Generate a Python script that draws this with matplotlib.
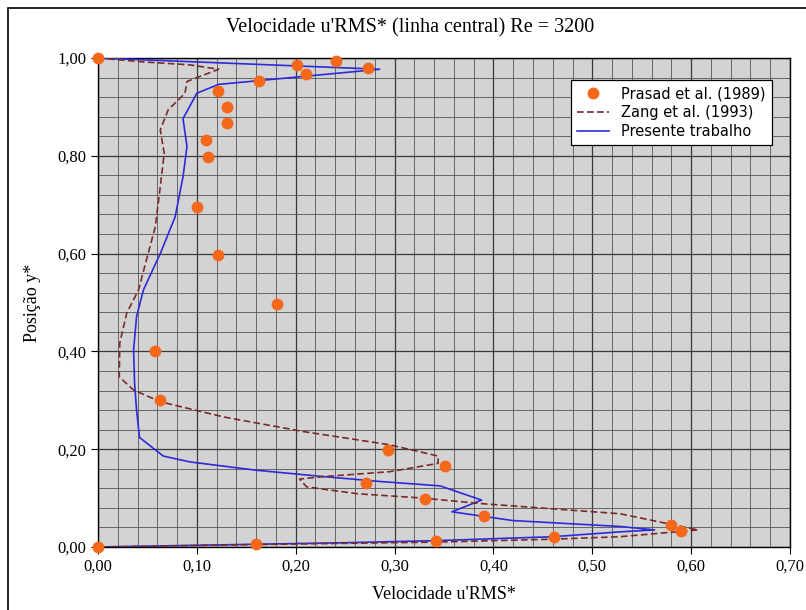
import matplotlib
matplotlib.use('Agg')
import matplotlib.pyplot as plt
from matplotlib.patches import Rectangle
from matplotlib.ticker import MultipleLocator, FuncFormatter

# Prasad et al. (1989) - pontos experimentais
prasad_x = [0.0, 0.241, 0.201, 0.273, 0.210, 0.163, 0.121, 0.130, 0.130, 0.109, 0.111,
            0.100, 0.121, 0.181, 0.058, 0.063, 0.293, 0.351, 0.271, 0.331, 0.390,
            0.580, 0.590, 0.461, 0.342, 0.160, 0.0]
prasad_y = [1.0, 0.994, 0.986, 0.979, 0.967, 0.952, 0.932, 0.899, 0.867, 0.832, 0.798,
            0.696, 0.597, 0.496, 0.400, 0.300, 0.198, 0.166, 0.130, 0.098, 0.064,
            0.046, 0.032, 0.020, 0.012, 0.007, 0.0]

# Zang et al. (1993)
zang_x = [0.0, 0.046, 0.093, 0.122, 0.090, 0.088, 0.071, 0.063, 0.067, 0.063, 0.058,
          0.049, 0.041, 0.029, 0.022, 0.0215, 0.036, 0.063, 0.127, 0.208, 0.295,
          0.344, 0.344, 0.295, 0.228, 0.204, 0.211, 0.262, 0.329, 0.386, 0.528,
          0.607, 0.528, 0.460, 0.342, 0.160, 0.0]
zang_y = [1.0, 0.992, 0.986, 0.977, 0.952, 0.928, 0.894, 0.853, 0.805, 0.737, 0.655,
          0.587, 0.526, 0.478, 0.417, 0.348, 0.321, 0.297, 0.266, 0.236, 0.209,
          0.186, 0.171, 0.154, 0.144, 0.139, 0.123, 0.109, 0.100, 0.089, 0.068,
          0.035, 0.021, 0.016, 0.010, 0.005, 0.0]

# Presente trabalho
pres_x = [0.0, 0.285, 0.122, 0.100, 0.086, 0.090, 0.086, 0.078, 0.063, 0.046, 0.039,
          0.036, 0.037, 0.039, 0.042, 0.066, 0.093, 0.160, 0.228, 0.285, 0.346,
          0.388, 0.358, 0.420, 0.528, 0.563, 0.528, 0.460, 0.342, 0.255, 0.0]
pres_y = [1.0, 0.977, 0.946, 0.928, 0.876, 0.819, 0.757, 0.675, 0.600, 0.526, 0.471,
          0.403, 0.335, 0.280, 0.224, 0.186, 0.174, 0.157, 0.144, 0.134, 0.125,
          0.096, 0.072, 0.054, 0.042, 0.035, 0.031, 0.021, 0.013, 0.009, 0.0]

serif = ['Liberation Serif', 'DejaVu Serif']

fig = plt.figure(figsize=(8.06, 6.10), dpi=100)
fig.patches.append(Rectangle((8 / 806, -0.1), 1.2, 1.1 - 8 / 610, transform=fig.transFigure,
                             fill=False, edgecolor='black', linewidth=1.2))

ax = fig.add_axes([98 / 806, 1 - 547 / 610, (790 - 98) / 806, (547 - 58) / 610])
ax.set_facecolor('#d3d3d3')

ax.set_xlim(0, 0.70)
ax.set_ylim(0, 1.0)
ax.xaxis.set_major_locator(MultipleLocator(0.1))
ax.xaxis.set_minor_locator(MultipleLocator(0.02))
ax.yaxis.set_major_locator(MultipleLocator(0.2))
ax.yaxis.set_minor_locator(MultipleLocator(0.04))
ax.grid(which='major', color='#3a3a3a', linewidth=0.9)
ax.grid(which='minor', color='#555555', linewidth=0.6)
ax.set_axisbelow(True)
ax.tick_params(which='minor', length=0)
ax.tick_params(which='major', length=5, direction='out', width=0.8)

comma = FuncFormatter(lambda v, p: f'{v:.2f}'.replace('.', ','))
ax.xaxis.set_major_formatter(comma)
ax.yaxis.set_major_formatter(comma)
for lab in ax.get_xticklabels() + ax.get_yticklabels():
    lab.set_family(serif)
    lab.set_fontsize(12)

ax.plot(pres_x, pres_y, color='#2b2bd9', linewidth=1.2, label='Presente trabalho', zorder=3)
ax.plot(zang_x, zang_y, color='#7b2a2a', linewidth=1.2, linestyle=(0, (4, 2)),
        label='Zang et al. (1993)', zorder=3)
ax.plot(prasad_x, prasad_y, linestyle='none', marker='o', markersize=7.5,
        color='#f5681a', label='Prasad et al. (1989)', zorder=4, clip_on=False)

for s in ax.spines.values():
    s.set_color('black')
    s.set_linewidth(1.0)

fig.text(410 / 806, 1 - 28 / 610, "Velocidade u'RMS* (linha central) Re = 3200",
         family=serif, fontsize=14.5, ha='center', va='center')
ax.set_xlabel("Velocidade u'RMS*", family=serif, fontsize=13, labelpad=8)
ax.set_ylabel('Posição y*', family=serif, fontsize=13, labelpad=12)

handles, labels = ax.get_legend_handles_labels()
order = [2, 1, 0]
leg = ax.legend([handles[i] for i in order], [labels[i] for i in order],
                loc='upper right', bbox_to_anchor=(0.974, 0.955), borderaxespad=0,
                fontsize=10.5, fancybox=False, framealpha=1, edgecolor='black',
                borderpad=0.45, handlelength=2.2, labelspacing=0.25)
leg.get_frame().set_linewidth(0.9)

fig.savefig('out.png', dpi=100, facecolor='white')
